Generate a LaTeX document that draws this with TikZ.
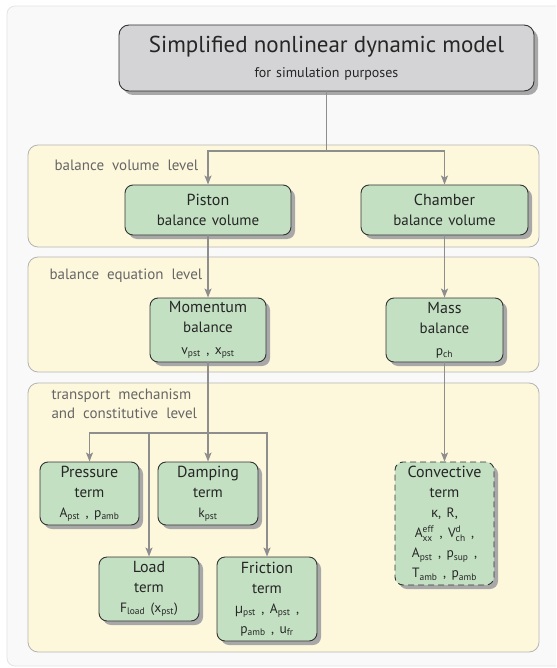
\documentclass[tikz,border=0pt]{standalone}
\usepackage{amsmath}
\usepackage{fontspec}
\setmainfont{PT Sans}
\newfontfamily\grkfont{Open Sans}
\usetikzlibrary{arrows.meta,shadows}

\definecolor{bgpanel}{HTML}{F9F9F9}
\definecolor{bgedge}{HTML}{E4E4E4}
\definecolor{levelfill}{HTML}{FDF8DC}
\definecolor{leveledge}{HTML}{B4B4B4}
\definecolor{boxfill}{HTML}{C3E0C2}
\definecolor{titlefill}{HTML}{D4D4D6}
\definecolor{linkgray}{HTML}{8E8E8E}
\definecolor{labelgray}{HTML}{666666}
\definecolor{shadowgray}{HTML}{A8A8A8}

\newcommand{\lsub}[1]{$_{\text{#1}}$}
\newcommand{\lsupsub}[2]{$^{\text{#1}}_{\text{#2}}$}
\newcommand{\headsize}{\fontsize{16}{20}\selectfont}
\newcommand{\kindsize}{\fontsize{15}{20}\selectfont}
\newcommand{\varsize}{\fontsize{13.5}{20}\selectfont}
\newcommand{\levelfont}{\fontsize{15}{18.5}\selectfont\spaceskip=8pt\relax}
\newcommand{\blockfont}{\fontsize{15}{20}\selectfont\spaceskip=5.5pt\relax}
\newcommand{\titlefont}{\fontsize{23}{25}\selectfont}
\newcommand{\subtitlefont}{\fontsize{14}{17}\selectfont\spaceskip=5pt\relax}

\tikzset{
  level/.style={draw=leveledge, fill=levelfill, rounded corners=10pt, line width=0.8pt},
  levellabel/.style={anchor=west, align=left, text=labelgray, font=\levelfont},
  block/.style={draw=black!80, fill=boxfill, rounded corners=8pt, line width=0.9pt,
    align=center, text=black!85, inner sep=0pt, font=\blockfont,
    drop shadow={shadow xshift=4pt, shadow yshift=-4pt, fill=shadowgray, opacity=1}},
  wire/.style={draw=linkgray, line width=1.6pt},
  link/.style={wire, -{Stealth[length=9pt,width=7pt,inset=2pt]}},
}

\begin{document}
\begin{tikzpicture}[x=1pt,y=-1pt]
\useasboundingbox (0,0) rectangle (556,668);
\clip (0,0) rectangle (556,668);
% background and levels
\draw[draw=bgedge, fill=bgpanel, rounded corners=8pt, line width=0.8pt] (7,6) rectangle (580,666);
\draw[level] (28,145) rectangle (539,247);
\draw[level] (28,257) rectangle (539,372);
\draw[level] (28,383) rectangle (539,652);
\node[levellabel] (lvlvol) at (51,165) {balance volume level};
\node[levellabel] (lvleq) at (46,276) {balance equation level};
\node[levellabel] (lvltrans) at (48,404) {transport mechanism\\and constitutive level};

% model
\node[block, fill=titlefill, rounded corners=10pt, minimum width=415pt, minimum height=66pt,
  font=\titlefont] (title) at (326.5,58)
  {Simplified nonlinear dynamic model\\{\subtitlefont for simulation purposes}};

% balance volumes
\node[block, minimum width=166pt, minimum height=50pt] (piston) at (208,210)
  {{\headsize Piston}\\{\kindsize balance volume}};
\node[block, minimum width=167pt, minimum height=50pt] (chamber) at (444.5,210)
  {{\headsize Chamber}\\{\kindsize balance volume}};

% balance equations
\node[block, minimum width=116pt, minimum height=64pt] (momentum) at (208,330)
  {{\headsize Momentum}\\{\kindsize balance}\\[2pt]{\varsize v\lsub{pst} , x\lsub{pst}}};
\node[block, minimum width=117pt, minimum height=64pt] (mass) at (444.5,330)
  {{\headsize Mass}\\{\kindsize balance}\\[2pt]{\varsize p\lsub{ch}}};

% terms
\node[block, minimum width=99pt, minimum height=63pt] (pressure) at (89.5,493.5)
  {{\headsize Pressure}\\{\kindsize term}\\{\varsize A\lsub{pst} , p\lsub{amb}}};
\node[block, minimum width=100pt, minimum height=63pt] (damping) at (208,493.5)
  {{\headsize Damping}\\{\kindsize term}\\{\varsize k\lsub{pst}}};
\node[block, minimum width=100pt, minimum height=64pt] (load) at (149,589)
  {{\headsize Load}\\{\kindsize term}\\{\varsize F\lsub{load} (x\lsub{pst})}};
\node[block, minimum width=100pt, minimum height=84pt] (friction) at (267,599)
  {{\headsize Friction}\\{\kindsize term}\\{\varsize {\grkfont μ}\lsub{pst} , A\lsub{pst} ,}\\{\varsize p\lsub{amb} , u\lsub{fr}}};
\node[block, dashed, dash pattern=on 6pt off 4pt, minimum width=99pt, minimum height=123pt] (convective) at (444.5,523.5)
  {{\headsize Convective}\\{\kindsize term}\\{\varsize {\grkfont κ}, R,}\\{\varsize A\lsupsub{eff}{xx} , V\lsupsub{d}{ch} ,}\\{\varsize A\lsub{pst} , p\lsub{sup} ,}\\{\varsize T\lsub{amb} , p\lsub{amb}}};

% connectors
\coordinate (split1) at (326.5,151);
\coordinate (split2) at (208,433);
\draw[wire] (title) -- (split1);
\draw[link] (split1) -| (piston);
\draw[link] (split1) -| (chamber);
\draw[link] (piston) -- (momentum);
\draw[link] (chamber) -- (mass);
\draw[link] (momentum) -- (damping);
\draw[link] (mass) -- (convective);
\draw[link] (split2) -| (pressure);
\draw[link] (split2) -| (friction);
\draw[link] (load.north |- split2) -- (load);
\end{tikzpicture}
\end{document}
